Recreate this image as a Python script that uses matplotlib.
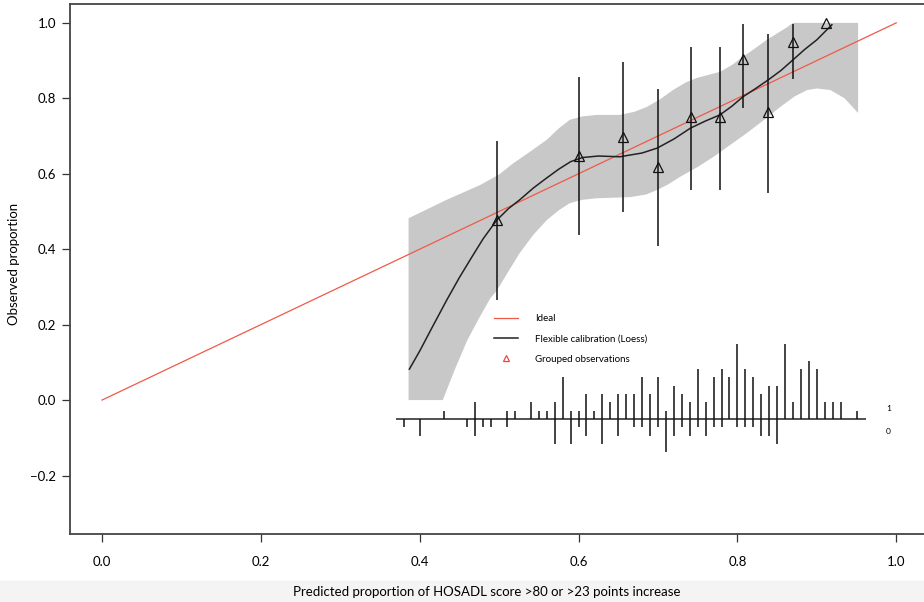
import matplotlib
matplotlib.use("Agg")
import matplotlib.pyplot as plt
from matplotlib.lines import Line2D
from matplotlib.patches import Rectangle

plt.rcParams['font.family'] = ['Lato', 'DejaVu Sans']

# ideal line
ideal_x = [0.0, 1.0]
ideal_y = [0.0, 1.0]

# loess calibration curve
loess_x = [0.387, 0.400, 0.415, 0.434, 0.450, 0.465, 0.480, 0.497, 0.512, 0.526,
           0.543, 0.560, 0.575, 0.590, 0.605, 0.625, 0.652, 0.680, 0.699, 0.720,
           0.741, 0.760, 0.778, 0.793, 0.807, 0.823, 0.839, 0.855, 0.870, 0.885,
           0.900, 0.919]
loess_y = [0.082, 0.130, 0.190, 0.265, 0.325, 0.377, 0.428, 0.477, 0.508, 0.531,
           0.562, 0.589, 0.612, 0.632, 0.643, 0.647, 0.645, 0.655, 0.668, 0.692,
           0.721, 0.740, 0.756, 0.779, 0.804, 0.826, 0.849, 0.874, 0.902, 0.930,
           0.955, 0.995]

# confidence band
band_up_x = [0.386, 0.434, 0.476, 0.500, 0.518, 0.540, 0.560, 0.575, 0.589, 0.605,
             0.623, 0.652, 0.670, 0.686, 0.703, 0.719, 0.735, 0.749, 0.778, 0.793,
             0.807, 0.822, 0.837, 0.863, 0.870, 0.952]
band_up_y = [0.482, 0.531, 0.570, 0.598, 0.628, 0.660, 0.690, 0.720, 0.743, 0.752,
             0.756, 0.756, 0.764, 0.777, 0.798, 0.822, 0.842, 0.854, 0.870, 0.888,
             0.910, 0.932, 0.955, 0.989, 1.000, 1.000]
band_lo_x = [0.386, 0.429, 0.445, 0.460, 0.475, 0.489, 0.497, 0.512, 0.526, 0.543,
             0.560, 0.575, 0.589, 0.605, 0.623, 0.665, 0.685, 0.699, 0.713, 0.728,
             0.750, 0.770, 0.790, 0.812, 0.833, 0.854, 0.872, 0.888, 0.900, 0.917,
             0.935, 0.952]
band_lo_y = [0.000, 0.000, 0.085, 0.159, 0.218, 0.270, 0.290, 0.342, 0.390, 0.438,
             0.477, 0.503, 0.522, 0.531, 0.535, 0.538, 0.545, 0.557, 0.572, 0.592,
             0.618, 0.645, 0.675, 0.708, 0.742, 0.777, 0.805, 0.822, 0.826, 0.822,
             0.800, 0.761]

# grouped observations with intervals
grp_x = [0.497, 0.600, 0.656, 0.700, 0.741, 0.778, 0.807, 0.839, 0.870, 0.911]
grp_y = [0.477, 0.647, 0.698, 0.618, 0.750, 0.750, 0.904, 0.764, 0.950, 1.000]
grp_lo = [0.265, 0.438, 0.499, 0.408, 0.557, 0.557, 0.774, 0.550, 0.851, 1.000]
grp_hi = [0.687, 0.857, 0.897, 0.825, 0.936, 0.936, 0.997, 0.971, 0.997, 1.000]

# spike histogram of predictions (counts for outcome 1 above, 0 below)
spike_x = [0.38, 0.40, 0.43, 0.46, 0.47, 0.48, 0.49, 0.51, 0.52, 0.54, 0.55, 0.56,
           0.57, 0.58, 0.59, 0.60, 0.61, 0.62, 0.63, 0.64, 0.65, 0.66, 0.67, 0.68,
           0.69, 0.70, 0.71, 0.72, 0.73, 0.74, 0.75, 0.76, 0.77, 0.78, 0.79, 0.80,
           0.81, 0.82, 0.83, 0.84, 0.85, 0.86, 0.87, 0.88, 0.89, 0.90, 0.91, 0.92,
           0.93, 0.95]
n_one = [0, 0, 1, 0, 2, 0, 0, 1, 1, 2, 1, 1,
         2, 5, 1, 1, 3, 1, 3, 2, 3, 3, 3, 5,
         3, 5, 1, 4, 3, 2, 6, 2, 5, 6, 5, 9,
         6, 5, 3, 4, 4, 9, 2, 6, 7, 6, 2, 2,
         2, 1]
n_zero = [1, 2, 0, 1, 2, 1, 1, 1, 0, 0, 0, 0,
          3, 0, 3, 1, 2, 0, 3, 0, 2, 0, 1, 1,
          2, 1, 4, 2, 1, 2, 1, 2, 1, 1, 0, 1,
          1, 1, 2, 2, 3, 0, 0, 0, 0, 0, 0, 0,
          0, 0]

spike_base = -0.05
spike_unit = 0.022

fig = plt.figure(figsize=(9.24, 6.02), dpi=100)
fig.patches.append(Rectangle((0, 0), 1, 0.035, transform=fig.transFigure,
                             color='#f4f4f4', zorder=-5))
ax = fig.add_axes([70/924, (602-534)/602, 858/924, 530/602])
ax.set_xlim(-0.0403, 1.04)
ax.set_ylim(-0.355, 1.05)

ax.fill(band_up_x + band_lo_x[::-1], band_up_y + band_lo_y[::-1],
        color='#c8c8c8', lw=0, zorder=1)
ax.plot(ideal_x, ideal_y, color='#ee5a48', lw=0.9, zorder=2)
ax.plot(loess_x, loess_y, color='#222222', lw=1.1, zorder=3)
ax.vlines(grp_x, grp_lo, grp_hi, color='#111111', lw=1.1, zorder=3)
ax.plot(grp_x, grp_y, ls='none', marker='^', ms=7, mfc='none', mec='#111111',
        mew=0.9, zorder=4)

# spikes
ax.hlines(spike_base, 0.37, 0.962, color='#222222', lw=1.1)
ax.vlines(spike_x, spike_base, [spike_base + n*spike_unit for n in n_one],
          color='#111111', lw=1.1)
ax.vlines(spike_x, [spike_base - n*spike_unit for n in n_zero], spike_base,
          color='#111111', lw=1.1)
ax.text(0.99, -0.021, '1', fontsize=6, ha='center', va='center')
ax.text(0.99, -0.082, '0', fontsize=6, ha='center', va='center')

handles = [Line2D([], [], color='#ee5a48', lw=0.9),
           Line2D([], [], color='#222222', lw=1.1),
           Line2D([], [], ls='none', marker='^', ms=5, mfc='none', mec='#ee4444', mew=0.9)]
labels = ['Ideal', 'Flexible calibration (Loess)', 'Grouped observations']
ax.legend(handles, labels, loc='upper left', bbox_to_anchor=(0.488, 0.24),
          bbox_transform=ax.transData, frameon=False, fontsize=7,
          handlelength=2.4, handletextpad=1.8, labelspacing=1.15, borderpad=0)

ax.set_xticks([0.0, 0.2, 0.4, 0.6, 0.8, 1.0])
ax.set_yticks([-0.2, 0.0, 0.2, 0.4, 0.6, 0.8, 1.0])
ax.set_xticklabels(['0.0', '0.2', '0.4', '0.6', '0.8', '1.0'])
ax.set_yticklabels(['\u22120.2', '0.0', '0.2', '0.4', '0.6', '0.8', '1.0'])
ax.tick_params(direction='out', length=6, width=0.9, color='#333333',
               labelsize=9.5)
ax.tick_params(axis='x', pad=10)
ax.tick_params(axis='y', pad=4)
for sp in ax.spines.values():
    sp.set_color('#444444')
    sp.set_linewidth(1.3)

ax.set_xlabel('Predicted proportion of HOSADL score >80 or >23 points increase',
              fontsize=9.5)
ax.set_ylabel('Observed proportion', fontsize=9.5)
ax.xaxis.set_label_coords((487-70)/858, -(592-534)/530)
ax.xaxis.label.set_va('center')
ax.yaxis.set_label_coords((14-70)/858, (534-264)/530)
ax.yaxis.label.set_va('center')

fig.savefig('out.png', dpi=100)
